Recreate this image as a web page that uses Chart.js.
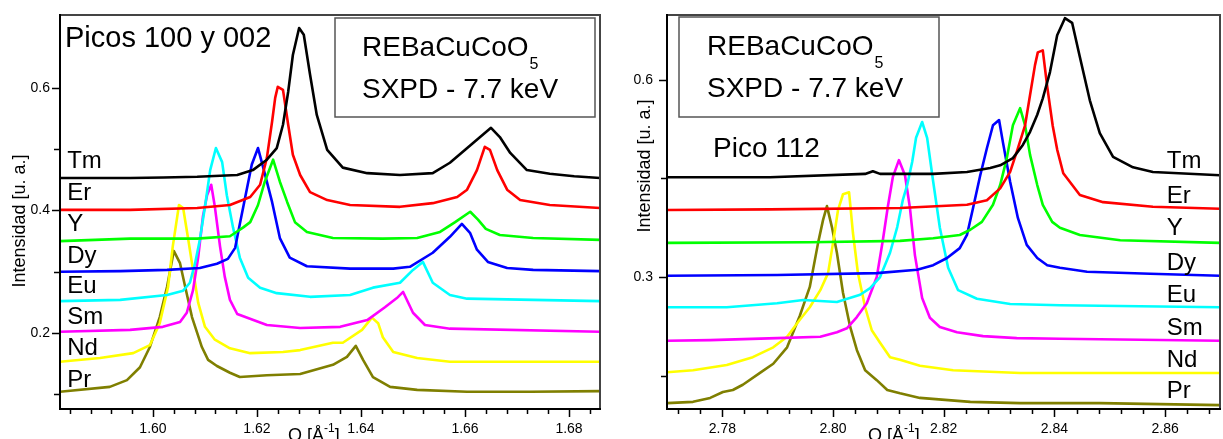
<!DOCTYPE html>
<html><head><meta charset="utf-8">
<script src="https://cdn.jsdelivr.net/npm/chart.js@4/dist/chart.umd.min.js"></script>
<style>
html,body{margin:0;padding:0;background:#fff;overflow:hidden;}
#wrap{position:relative;width:1223px;height:439px;background:#fff;}
#c1{position:absolute;left:0;top:0;}
#c2{position:absolute;left:610px;top:0;}
</style></head><body>
<div id="wrap"><canvas id="c1" width="610" height="439"></canvas><canvas id="c2" width="613" height="439"></canvas></div>
<script>
// ---------- categories ----------
const ELEMENTS = ['Tm','Er','Y','Dy','Eu','Sm','Nd','Pr'];
const COLORS = ['#000000','#ff0000','#00ff00','#0000ff','#00ffff','#ff00ff','#ffff00','#7f7f00'];

// ---------- left panel: Picos 100 y 002 ----------
const L_Tm_Q = [1.5821,1.5900,1.5956,1.6020,1.6085,1.6162,1.6192,1.6219,1.6238,1.6250,1.6260,1.6269,1.6281,1.6290,1.6302,1.6315,1.6335,1.6365,1.6412,1.6475,1.6538,1.6571,1.6615,1.6650,1.6667,1.6687,1.6719,1.6763,1.6810,1.6860];
const L_Tm_I = [0.453,0.453,0.453,0.454,0.455,0.458,0.466,0.483,0.502,0.540,0.594,0.654,0.698,0.687,0.622,0.556,0.499,0.470,0.461,0.458,0.461,0.478,0.510,0.535,0.520,0.494,0.466,0.460,0.456,0.453];
const L_Er_Q = [1.5821,1.5956,1.6085,1.6148,1.6187,1.6206,1.6219,1.6229,1.6235,1.6240,1.6250,1.6260,1.6269,1.6283,1.6302,1.6335,1.6379,1.6475,1.6538,1.6585,1.6604,1.6623,1.6638,1.6648,1.6662,1.6681,1.6706,1.6763,1.6860];
const L_Er_I = [0.401,0.401,0.404,0.409,0.422,0.442,0.486,0.545,0.584,0.602,0.597,0.540,0.491,0.458,0.430,0.417,0.409,0.406,0.412,0.422,0.434,0.466,0.504,0.499,0.466,0.434,0.417,0.409,0.404];
const L_Y_Q  = [1.5821,1.5956,1.6085,1.6148,1.6173,1.6187,1.6202,1.6215,1.6231,1.6244,1.6258,1.6273,1.6296,1.6346,1.6442,1.6508,1.6552,1.6581,1.6610,1.6625,1.6640,1.6667,1.6731,1.6860];
const L_Y_I  = [0.350,0.354,0.354,0.358,0.372,0.381,0.409,0.447,0.483,0.447,0.414,0.381,0.365,0.355,0.354,0.355,0.365,0.381,0.398,0.385,0.370,0.360,0.355,0.352];
const L_Dy_Q = [1.5821,1.5937,1.6027,1.6090,1.6123,1.6144,1.6158,1.6167,1.6181,1.6190,1.6202,1.6212,1.6229,1.6244,1.6263,1.6296,1.6379,1.6462,1.6494,1.6538,1.6571,1.6594,1.6610,1.6623,1.6644,1.6681,1.6731,1.6860];
const L_Dy_I = [0.300,0.301,0.303,0.306,0.313,0.321,0.339,0.378,0.437,0.475,0.502,0.470,0.414,0.355,0.323,0.309,0.305,0.305,0.308,0.331,0.357,0.378,0.363,0.336,0.316,0.306,0.303,0.301];
const L_Eu_Q = [1.5821,1.5937,1.6027,1.6058,1.6071,1.6081,1.6090,1.6100,1.6110,1.6121,1.6133,1.6142,1.6154,1.6167,1.6183,1.6206,1.6238,1.6302,1.6379,1.6423,1.6475,1.6500,1.6519,1.6538,1.6571,1.6604,1.6860];
const L_Eu_I = [0.252,0.254,0.262,0.269,0.282,0.314,0.352,0.406,0.466,0.502,0.479,0.425,0.372,0.323,0.290,0.274,0.265,0.259,0.262,0.274,0.282,0.303,0.316,0.282,0.262,0.256,0.252];
const L_Sm_Q = [1.5821,1.5956,1.6019,1.6052,1.6065,1.6077,1.6087,1.6096,1.6104,1.6112,1.6119,1.6129,1.6138,1.6148,1.6162,1.6219,1.6283,1.6360,1.6412,1.6446,1.6469,1.6481,1.6500,1.6523,1.6571,1.6860];
const L_Sm_I = [0.202,0.205,0.210,0.218,0.233,0.270,0.324,0.390,0.425,0.442,0.406,0.341,0.292,0.254,0.231,0.213,0.208,0.210,0.221,0.242,0.257,0.267,0.233,0.213,0.207,0.202];
const L_Nd_Q = [1.5821,1.5898,1.5962,1.5994,1.6013,1.6029,1.6038,1.6050,1.6058,1.6067,1.6077,1.6087,1.6100,1.6119,1.6148,1.6187,1.6250,1.6283,1.6346,1.6365,1.6402,1.6421,1.6433,1.6442,1.6462,1.6508,1.6571,1.6860];
const L_Nd_I = [0.153,0.159,0.167,0.180,0.216,0.275,0.341,0.409,0.404,0.357,0.303,0.249,0.210,0.189,0.175,0.167,0.169,0.172,0.184,0.184,0.205,0.225,0.216,0.193,0.169,0.159,0.153,0.153];
const L_Pr_Q = [1.5821,1.5917,1.5950,1.5975,1.5994,1.6013,1.6027,1.6040,1.6052,1.6062,1.6075,1.6085,1.6094,1.6106,1.6123,1.6148,1.6167,1.6219,1.6283,1.6346,1.6373,1.6390,1.6404,1.6423,1.6456,1.6508,1.6604,1.6725,1.6860];
const L_Pr_I = [0.104,0.112,0.123,0.144,0.177,0.226,0.275,0.334,0.314,0.275,0.226,0.200,0.177,0.156,0.146,0.135,0.128,0.131,0.133,0.148,0.161,0.179,0.156,0.128,0.112,0.107,0.104,0.104,0.105];
const L_LABEL_Q = 1.5835;
const L_LABEL_I = [0.470,0.417,0.367,0.314,0.265,0.215,0.164,0.112];
const L_X_TICKS = [1.60,1.62,1.64,1.66,1.68];
const L_Y_TICKS = [0.2,0.4,0.6];

// ---------- right panel: Pico 112 ----------
const R_Tm_Q = [2.7700,2.7886,2.8058,2.8072,2.8085,2.8181,2.8242,2.8284,2.8302,2.8325,2.8343,2.8356,2.8369,2.8379,2.8392,2.8405,2.8419,2.8432,2.8446,2.8464,2.8482,2.8506,2.8542,2.8578,2.8699];
const R_Tm_I = [0.452,0.452,0.457,0.461,0.457,0.457,0.460,0.466,0.470,0.481,0.501,0.521,0.547,0.572,0.612,0.668,0.694,0.687,0.635,0.569,0.519,0.483,0.467,0.460,0.455];
const R_Er_Q = [2.7700,2.7886,2.8121,2.8242,2.8278,2.8302,2.8320,2.8334,2.8347,2.8356,2.8365,2.8370,2.8379,2.8387,2.8397,2.8405,2.8416,2.8446,2.8488,2.8578,2.8699];
const R_Er_I = [0.402,0.403,0.405,0.410,0.417,0.435,0.460,0.496,0.531,0.577,0.623,0.642,0.645,0.590,0.530,0.494,0.458,0.425,0.414,0.407,0.404];
const R_Y_Q  = [2.7700,2.7958,2.8121,2.8181,2.8229,2.8248,2.8269,2.8289,2.8302,2.8314,2.8325,2.8338,2.8347,2.8356,2.8369,2.8379,2.8396,2.8410,2.8446,2.8519,2.8699];
const R_Y_I  = [0.352,0.353,0.355,0.359,0.364,0.372,0.384,0.410,0.440,0.481,0.531,0.557,0.531,0.486,0.440,0.410,0.384,0.375,0.364,0.356,0.352];
const R_Dy_Q = [2.7700,2.7899,2.8079,2.8152,2.8181,2.8206,2.8229,2.8242,2.8253,2.8266,2.8278,2.8289,2.8300,2.8307,2.8320,2.8334,2.8350,2.8369,2.8387,2.8410,2.8459,2.8573,2.8699];
const R_Dy_I = [0.302,0.303,0.306,0.311,0.318,0.329,0.344,0.364,0.405,0.455,0.496,0.531,0.539,0.505,0.445,0.390,0.349,0.329,0.318,0.314,0.308,0.305,0.302];
const R_Eu_Q = [2.7700,2.7808,2.7899,2.7946,2.8007,2.8049,2.8067,2.8085,2.8103,2.8116,2.8126,2.8134,2.8143,2.8150,2.8161,2.8170,2.8181,2.8193,2.8208,2.8226,2.8260,2.8320,2.8410,2.8699];
const R_Eu_I = [0.254,0.254,0.260,0.265,0.262,0.273,0.283,0.300,0.337,0.376,0.417,0.440,0.475,0.512,0.536,0.512,0.445,0.375,0.314,0.280,0.267,0.259,0.257,0.254];
const R_Sm_Q = [2.7700,2.7778,2.7899,2.7977,2.8007,2.8025,2.8043,2.8061,2.8079,2.8090,2.8099,2.8108,2.8119,2.8130,2.8139,2.8148,2.8161,2.8175,2.8193,2.8224,2.8271,2.8332,2.8410,2.8699];
const R_Sm_I = [0.203,0.204,0.207,0.209,0.216,0.222,0.239,0.260,0.300,0.356,0.407,0.452,0.478,0.455,0.405,0.333,0.268,0.238,0.224,0.216,0.210,0.207,0.206,0.203];
const R_Nd_Q = [2.7700,2.7747,2.7808,2.7855,2.7892,2.7917,2.7940,2.7958,2.7977,2.7991,2.8000,2.8009,2.8018,2.8029,2.8036,2.8045,2.8058,2.8070,2.8085,2.8103,2.8121,2.8157,2.8217,2.8338,2.8699];
const R_Nd_I = [0.155,0.158,0.166,0.178,0.193,0.209,0.235,0.254,0.280,0.306,0.352,0.402,0.426,0.429,0.367,0.306,0.254,0.219,0.200,0.178,0.174,0.165,0.158,0.154,0.154];
const R_Pr_Q = [2.7700,2.7747,2.7778,2.7801,2.7819,2.7837,2.7868,2.7892,2.7917,2.7940,2.7958,2.7973,2.7982,2.7989,2.7998,2.8007,2.8018,2.8031,2.8043,2.8058,2.8079,2.8098,2.8121,2.8157,2.8248,2.8338,2.8482,2.8699];
const R_Pr_I = [0.108,0.110,0.116,0.125,0.128,0.136,0.154,0.168,0.193,0.241,0.285,0.352,0.387,0.408,0.376,0.337,0.276,0.224,0.189,0.158,0.143,0.128,0.123,0.116,0.110,0.108,0.108,0.105];
const R_LABEL_Q = 2.8603;
const R_LABEL_I = [0.466,0.413,0.364,0.311,0.262,0.212,0.163,0.116];
const R_X_TICKS = [2.78,2.80,2.82,2.84,2.86];
const R_Y_TICKS = [0.3,0.6];

const FONT = '"Liberation Sans", Arial, Helvetica, sans-serif';

function makeDatasets(qs, is) {
  return ELEMENTS.map((el, k) => ({
    label: el,
    data: qs[k].map((q, j) => ({x: q, y: is[k][j]})),
    borderColor: COLORS[k], backgroundColor: COLORS[k],
    borderWidth: 2.6, pointRadius: 0, tension: 0, fill: false,
    borderJoinStyle: 'round', borderCapStyle: 'round'
  }));
}

const decoPlugin = {
  id: 'deco',
  afterDatasetsDraw(chart, args, o) {
    const {ctx, chartArea: a, scales: {x, y}} = chart;
    ctx.save();
    ctx.fillStyle = '#000';
    ctx.textAlign = 'left';
    ctx.textBaseline = 'alphabetic';
    // element labels (data coordinates)
    ctx.font = '24px ' + FONT;
    o.labelI.forEach((v, k) => ctx.fillText(ELEMENTS[k], x.getPixelForValue(o.labelQ), y.getPixelForValue(v)));
    // panel title
    ctx.font = o.title.size + 'px ' + FONT;
    ctx.fillText(o.title.text, o.title.x, o.title.y);
    // info box
    const b = o.box;
    ctx.lineWidth = 1.5; ctx.strokeStyle = '#555';
    ctx.strokeRect(b.x, b.y, b.w, b.h);
    ctx.font = '28px ' + FONT;
    ctx.fillText('REBaCuCoO', b.tx, b.y + 38);
    const w1 = ctx.measureText('REBaCuCoO').width;
    ctx.font = '16px ' + FONT;
    ctx.fillText('5', b.tx + w1 + 1, b.y + 51);
    ctx.font = '28px ' + FONT;
    ctx.fillText('SXPD - 7.7 keV', b.tx, b.y + 80);
    // frame
    ctx.lineCap = 'square';
    ctx.lineWidth = 2; ctx.strokeStyle = '#444';
    ctx.beginPath(); ctx.moveTo(a.left, a.top); ctx.lineTo(a.right, a.top); ctx.lineTo(a.right, a.bottom); ctx.stroke();
    ctx.strokeStyle = '#000';
    ctx.beginPath(); ctx.moveTo(a.left, a.top); ctx.lineTo(a.left, a.bottom); ctx.lineTo(a.right, a.bottom); ctx.stroke();
    // tick marks
    ctx.lineWidth = 1.5; ctx.lineCap = 'butt';
    ctx.beginPath();
    for (let v = Math.ceil(x.min / o.xMinor - 1e-6) * o.xMinor; v <= x.max + 1e-9; v += o.xMinor) {
      const isMajor = o.xTicks.some(t => Math.abs(t - v) < o.xMinor / 10);
      const px = Math.round(x.getPixelForValue(v)) + 0.5;
      ctx.moveTo(px, a.bottom); ctx.lineTo(px, a.bottom + (isMajor ? 8 : 5));
    }
    o.yAll.forEach(v => {
      const isMajor = o.yTicks.some(t => Math.abs(t - v) < 1e-6);
      const py = Math.round(y.getPixelForValue(v)) + 0.5;
      ctx.moveTo(a.left, py); ctx.lineTo(a.left - (isMajor ? 8 : 6), py);
    });
    ctx.stroke();
    // axis titles
    ctx.save();
    ctx.translate(o.yTitle.x, o.yTitle.y);
    ctx.rotate(-Math.PI / 2);
    ctx.textAlign = 'center'; ctx.textBaseline = 'middle';
    ctx.font = '18px ' + FONT;
    ctx.fillText('Intensidad [u. a.]', 0, 0);
    ctx.restore();
    ctx.font = '18px ' + FONT;
    ctx.fillText('Q [Å', o.xTitle.x, o.xTitle.y);
    const wq = ctx.measureText('Q [Å').width;
    ctx.font = '12px ' + FONT;
    ctx.fillText('-1', o.xTitle.x + wq, o.xTitle.y - 9);
    const ws = ctx.measureText('-1').width;
    ctx.font = '18px ' + FONT;
    ctx.fillText(']', o.xTitle.x + wq + ws, o.xTitle.y);
    ctx.restore();
  }
};

function makeChart(id, qs, is, cfg) {
  return new Chart(document.getElementById(id), {
    type: 'line',
    data: {datasets: makeDatasets(qs, is)},
    plugins: [decoPlugin],
    options: {
      responsive: false, animation: false, devicePixelRatio: 1,
      layout: {padding: cfg.padding},
      plugins: {legend: {display: false}, tooltip: {enabled: false}, deco: cfg.deco},
      scales: {
        x: {
          type: 'linear', min: cfg.xMin, max: cfg.xMax,
          afterBuildTicks: s => { s.ticks = cfg.deco.xTicks.map(v => ({value: v})); },
          afterFit: s => { s.height = 30; },
          grid: {display: true, drawOnChartArea: false, drawTicks: true, tickLength: 8, color: 'rgba(0,0,0,0)'},
          border: {display: false},
          ticks: {autoSkip: false, maxRotation: 0, padding: 4, color: '#000', font: {family: FONT, size: 14},
                  callback: v => Number(v).toFixed(2)}
        },
        y: {
          type: 'linear', min: cfg.yMin, max: cfg.yMax,
          afterBuildTicks: s => { s.ticks = cfg.deco.yTicks.map(v => ({value: v})); },
          afterFit: s => { s.width = cfg.yWidth; },
          grid: {display: true, drawOnChartArea: false, drawTicks: true, tickLength: 8, color: 'rgba(0,0,0,0)'},
          border: {display: false},
          ticks: {autoSkip: false, padding: cfg.yPad, color: '#000', font: {family: FONT, size: 14},
                  callback: v => Number(v).toFixed(1)}
        }
      }
    }
  });
}

makeChart('c1',
  [L_Tm_Q, L_Er_Q, L_Y_Q, L_Dy_Q, L_Eu_Q, L_Sm_Q, L_Nd_Q, L_Pr_Q],
  [L_Tm_I, L_Er_I, L_Y_I, L_Dy_I, L_Eu_I, L_Sm_I, L_Nd_I, L_Pr_I],
  {padding: {top: 15, right: 10, left: 0, bottom: 0}, xMin: 1.58212, xMax: 1.68596, yMin: 0.0758, yMax: 0.7193, yWidth: 60, yPad: 2,
   deco: {labelQ: L_LABEL_Q, labelI: L_LABEL_I, xTicks: L_X_TICKS, yTicks: L_Y_TICKS, xMinor: 0.004, yAll: [0.1,0.2,0.3,0.4,0.5,0.6],
          title: {text: 'Picos 100 y 002', size: 29, x: 65, y: 47},
          box: {x: 335, y: 18, w: 260, h: 99, tx: 362},
          yTitle: {x: 20, y: 221}, xTitle: {x: 288, y: 441}}});

makeChart('c2',
  [R_Tm_Q, R_Er_Q, R_Y_Q, R_Dy_Q, R_Eu_Q, R_Sm_Q, R_Nd_Q, R_Pr_Q],
  [R_Tm_I, R_Er_I, R_Y_I, R_Dy_I, R_Eu_I, R_Sm_I, R_Nd_I, R_Pr_I],
  {padding: {top: 15, right: 3, left: 0, bottom: 0}, xMin: 2.7700, xMax: 2.86992, yMin: 0.0991, yMax: 0.6989, yWidth: 57, yPad: 6,
   deco: {labelQ: R_LABEL_Q, labelI: R_LABEL_I, xTicks: R_X_TICKS, yTicks: R_Y_TICKS, xMinor: 0.004, yAll: [0.15,0.3,0.45,0.6],
          title: {text: 'Pico 112', size: 28, x: 103, y: 157},
          box: {x: 69, y: 17, w: 260, h: 100, tx: 97},
          yTitle: {x: 35, y: 166}, xTitle: {x: 258, y: 441}}});
</script>
</body></html>
